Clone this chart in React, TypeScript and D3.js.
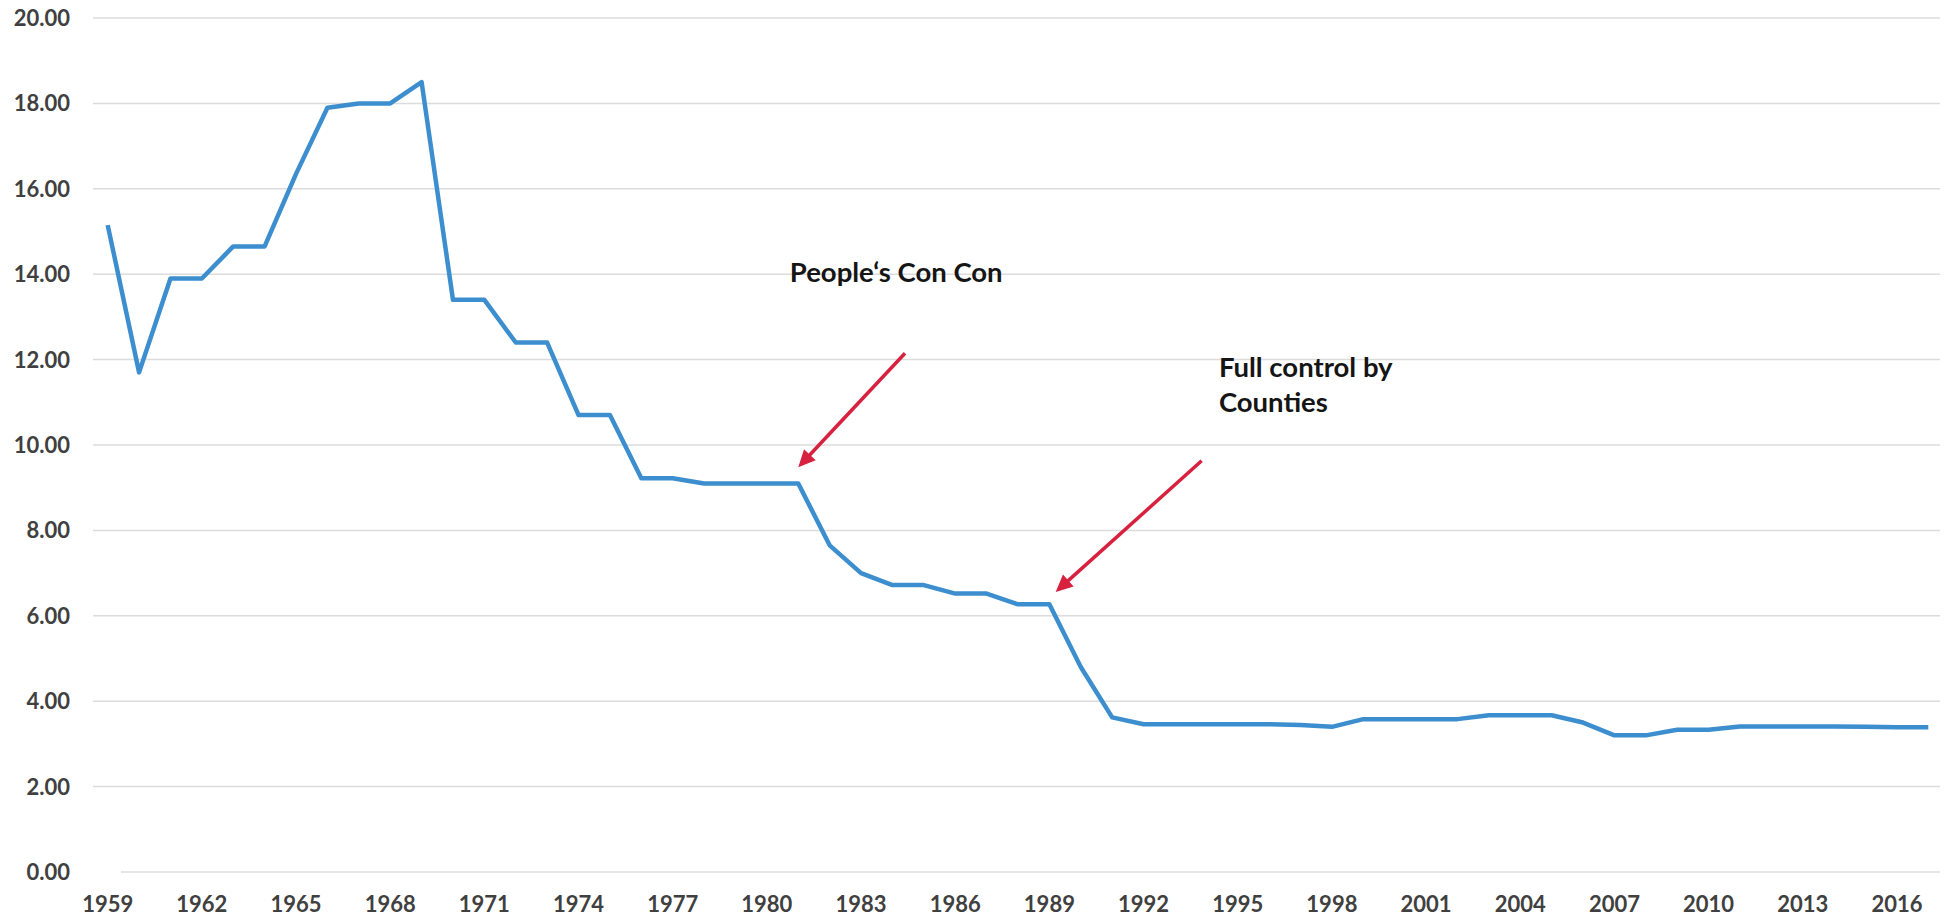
import React from "react";
import * as d3 from "d3";

const years: number[] = d3.range(1959, 2018);
const values: number[] = [
  15.15, 11.7, 13.9, 13.9, 14.65, 14.65, 16.35, 17.9, 18.0, 18.0,
  18.5, 13.4, 13.4, 12.4, 12.4, 10.7, 10.7, 9.22, 9.22, 9.1,
  9.1, 9.1, 9.1, 7.65, 7.0, 6.72, 6.72, 6.52, 6.52, 6.27,
  6.27, 4.8, 3.62, 3.46, 3.46, 3.46, 3.46, 3.46, 3.44, 3.4,
  3.58, 3.58, 3.58, 3.58, 3.67, 3.67, 3.67, 3.5, 3.2, 3.2,
  3.33, 3.33, 3.41, 3.41, 3.41, 3.41, 3.4, 3.39, 3.39,
];
const yTicks: number[] = [0, 2, 4, 6, 8, 10, 12, 14, 16, 18, 20];
const xTickYears: number[] = d3.range(1959, 2018, 3);

// annotations in data coordinates
const arrowList = [
  { from: [1984.4, 12.15], to: [1981.0, 9.48] },
  { from: [1993.85, 9.63], to: [1989.2, 6.56] },
];
const labels = [
  { lines: ["People\u2018s Con Con"], year: 1980.73, value: 13.82 },
  { lines: ["Full control by", "Counties"], year: 1994.4, value: 11.59 },
];

const W = 1953;
const H = 922;
const FONT = "Lato, 'Open Sans', sans-serif";

export default function App() {
  const x = d3.scaleLinear().domain([1958.5, 2017.5]).range([92, 1944]);
  const y = d3.scaleLinear().domain([0, 20]).range([872, 18]);

  const line = d3
    .line<number>()
    .x((_, i) => x(years[i]))
    .y((v) => y(v));

  const arrowColor = "#d7213f";

  return (
    <svg
      width={W}
      height={H}
      style={{ position: "absolute", left: 0, top: 0, background: "#fff" }}
    >
      {yTicks.map((t) => (
        <line
          key={"g" + t}
          x1={t === 0 ? 121 : 93}
          x2={1940}
          y1={y(t)}
          y2={y(t)}
          stroke="#dcdcdc"
          strokeWidth={1.5}
        />
      ))}
      {yTicks.map((t) => (
        <text
          key={"yl" + t}
          x={70}
          y={y(t) + 8}
          textAnchor="end"
          fontFamily={FONT}
          fontWeight={700}
          fontSize={22}
          fill="#404040"
        >
          {t.toFixed(2)}
        </text>
      ))}
      {xTickYears.map((yr) => (
        <text
          key={"xl" + yr}
          x={x(yr)}
          y={912}
          textAnchor="middle"
          fontFamily={FONT}
          fontWeight={700}
          fontSize={22}
          fill="#404040"
        >
          {yr}
        </text>
      ))}
      <path
        d={line(values) || ""}
        fill="none"
        stroke="#3d8ece"
        strokeWidth={4.5}
        strokeLinejoin="round"
        strokeLinecap="butt"
      />
      {arrowList.map((a, i) => {
        const x1 = x(a.from[0]);
        const y1 = y(a.from[1]);
        const x2 = x(a.to[0]);
        const y2 = y(a.to[1]);
        const ang = Math.atan2(y2 - y1, x2 - x1);
        const hl = 17;
        const hw = 8;
        const bx = x2 - hl * Math.cos(ang);
        const by = y2 - hl * Math.sin(ang);
        const px = -Math.sin(ang);
        const py = Math.cos(ang);
        const pts = [
          [x2, y2],
          [bx + px * hw, by + py * hw],
          [bx - px * hw, by - py * hw],
        ];
        return (
          <g key={"a" + i}>
            <line
              x1={x1}
              y1={y1}
              x2={bx + 2 * Math.cos(ang)}
              y2={by + 2 * Math.sin(ang)}
              stroke={arrowColor}
              strokeWidth={3.5}
            />
            <polygon points={pts.map((p) => p.join(",")).join(" ")} fill={arrowColor} />
          </g>
        );
      })}
      {labels.map((l, i) => (
        <text
          key={"t" + i}
          x={x(l.year)}
          y={y(l.value)}
          fontFamily={FONT}
          fontWeight={700}
          fontSize={27.5}
          fill="#151515"
        >
          {l.lines.map((s, j) => (
            <tspan key={j} x={x(l.year)} dy={j === 0 ? 0 : 35}>
              {s}
            </tspan>
          ))}
        </text>
      ))}
    </svg>
  );
}
